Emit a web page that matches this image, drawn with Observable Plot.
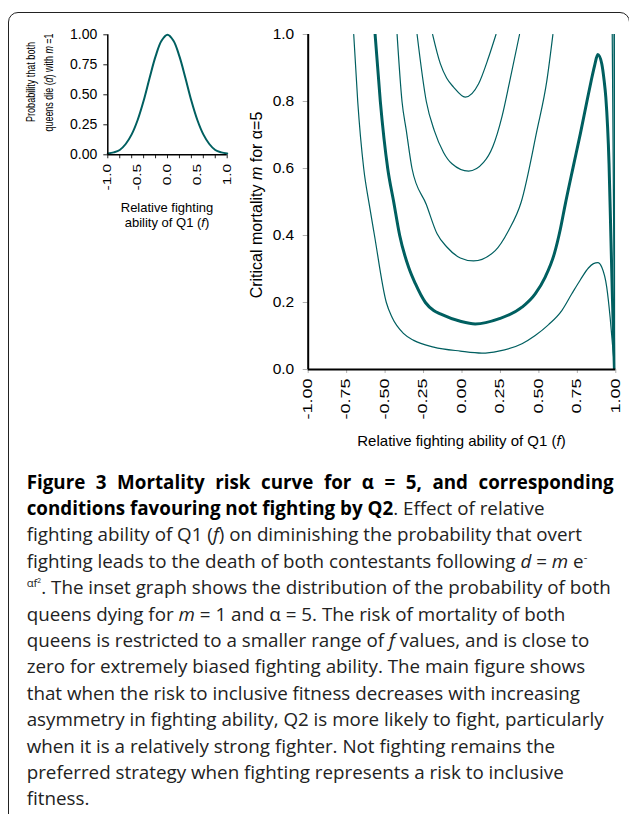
<!DOCTYPE html>
<html>
<head>
<meta charset="utf-8">
<script src="https://cdn.jsdelivr.net/npm/d3@7"></script>
<script src="https://cdn.jsdelivr.net/npm/@observablehq/plot@0.6"></script>
<style>
html,body{margin:0;padding:0;background:#fff;}
body{width:629px;height:814px;position:relative;overflow:hidden;}
#frame{position:absolute;left:8px;top:12px;width:622px;height:812px;border:1.5px solid #222;border-radius:10px;box-sizing:border-box;}
#inset{position:absolute;left:0;top:0;}
#main{position:absolute;left:240px;top:0;}
#caption{position:absolute;left:26.7px;top:468.5px;font-family:"Open Sans",sans-serif;font-size:18.8px;line-height:26.4px;color:#222;white-space:nowrap;}
#caption b{color:#000;font-weight:700;}
#caption .l1{width:587px;text-align:justify;text-align-last:justify;}
#caption sup{font-size:0.6em;line-height:0;vertical-align:baseline;position:relative;top:-0.6em;}
</style>
</head>
<body>
<div id="frame"></div>
<div id="inset"></div>
<div id="main"></div>
<div id="caption">
<div class="l1"><b>Figure 3 Mortality risk curve for α = 5, and corresponding</b></div>
<div><b>conditions favouring not fighting by Q2</b>. Effect of relative</div>
<div>fighting ability of Q1 (<i>f</i>) on diminishing the probability that overt</div>
<div>fighting leads to the death of both contestants following <i>d</i> = <i>m</i> e<sup>-</sup></div>
<div><sup>αf<sup>2</sup></sup>. The inset graph shows the distribution of the probability of both</div>
<div>queens dying for <i>m</i> = 1 and α = 5. The risk of mortality of both</div>
<div>queens is restricted to a smaller range of <i>f</i> values, and is close to</div>
<div>zero for extremely biased fighting ability. The main figure shows</div>
<div>that when the risk to inclusive fitness decreases with increasing</div>
<div>asymmetry in fighting ability, Q2 is more likely to fight, particularly</div>
<div>when it is a relatively strong fighter. Not fighting remains the</div>
<div>preferred strategy when fighting represents a risk to inclusive</div>
<div>fitness.</div>
</div>
<script>
// ---------- Inset data: probability both queens die (m = 1) ----------
const insetF = [-1,-0.9,-0.8,-0.7,-0.6,-0.5,-0.4,-0.3,-0.2,-0.1,0,0.1,0.2,0.3,0.4,0.5,0.6,0.7,0.8,0.9,1];
const insetD = [0.01,0.02,0.04,0.09,0.17,0.29,0.45,0.64,0.82,0.95,1.00,0.95,0.82,0.64,0.45,0.29,0.17,0.09,0.04,0.02,0.01];
const insetXTicks = [-1,-0.5,0,0.5,1];
const insetXTickLabels = ["-1.0","-0.5","0.0","0.5","1.0"];
const insetXTickMarks = [-1,-0.8,-0.6,-0.4,-0.2,0,0.2,0.4,0.6,0.8,1];
const insetYTicks = [0,0.25,0.5,0.75,1];
const insetYTickLabels = ["0.00","0.25","0.50","0.75","1.00"];

// ---------- Main data: critical mortality m vs relative fighting ability f ----------
const curveA_f = [-0.704,-0.678,-0.639,-0.602,-0.569,-0.492,-0.455,-0.379,-0.314,-0.184,-0.011,0.13,0.238,0.39,0.476,0.563,0.649,0.714,0.77,0.822,0.855,0.883,0.909,0.941,0.963,0.978,0.993];
const curveA_m = [1.0,0.8,0.6,0.49,0.4,0.2,0.156,0.107,0.087,0.067,0.055,0.049,0.055,0.077,0.1015,0.134,0.176,0.226,0.268,0.303,0.316,0.319,0.305,0.246,0.156,0.077,0.0];

const curveB_f = [-0.565,-0.531,-0.483,-0.444,-0.405,-0.347,-0.303,-0.238,-0.184,-0.141,-0.011,0.086,0.238,0.39,0.476,0.541,0.60,0.64,0.67,0.723,0.770,0.812,0.840,0.861,0.883,0.909,0.924,0.935,0.956,0.967,0.978,0.991];
const curveB_m = [1.0,0.8,0.6,0.5,0.4,0.305,0.256,0.2,0.176,0.166,0.144,0.136,0.151,0.186,0.226,0.276,0.345,0.42,0.49,0.605,0.705,0.800,0.862,0.905,0.940,0.912,0.863,0.813,0.614,0.415,0.216,0.0];

const curveC_f = [-0.422,-0.39,-0.362,-0.325,-0.232,-0.162,-0.097,-0.011,0.075,0.216,0.303,0.385,0.487,0.552,0.591];
const curveC_m = [1.0,0.8,0.713,0.6,0.4925,0.405,0.365,0.333,0.324,0.355,0.415,0.5,0.713,0.863,1.0];
const curveC2_f = [0.976,0.993];
const curveC2_m = [1.05,0.0];

const curveD_f = [-0.292,-0.232,-0.18,-0.12,-0.065,0.043,0.14,0.2,0.26,0.31,0.374];
const curveD_m = [1.0,0.8,0.713,0.648,0.614,0.592,0.618,0.665,0.755,0.86,1.0];
const curveD2_f = [0.989,0.993];
const curveD2_m = [1.05,0.0];

const curveE_f = [-0.191,-0.141,-0.1,-0.055,0.021,0.108,0.173,0.221];
const curveE_m = [1.0,0.913,0.87,0.843,0.813,0.853,0.932,1.0];
const curveE2_f = [0.990,0.993];
const curveE2_m = [1.05,0.0];

const xTicks = [-1,-0.75,-0.5,-0.25,0,0.25,0.5,0.75,1];
const xTickLabels = ["-1.00","-0.75","-0.50","-0.25","0.00","0.25","0.50","0.75","1.00"];
const yTicks = [0,0.2,0.4,0.6,0.8,1];
const yTickLabels = ["0.0","0.2","0.4","0.6","0.8","1.0"];

const teal = "#005f60";
const rows = (name, fs, ms) => fs.map((f, i) => ({curve: name, f, m: ms[i]}));
const thinRows = [
  ...rows("A", curveA_f, curveA_m),
  ...rows("C", curveC_f, curveC_m), ...rows("C2", curveC2_f, curveC2_m),
  ...rows("D", curveD_f, curveD_m), ...rows("D2", curveD2_f, curveD2_m),
  ...rows("E", curveE_f, curveE_m), ...rows("E2", curveE2_f, curveE2_m)
];
const thickRows = rows("B", curveB_f, curveB_m);
const insetRows = insetF.map((f, i) => ({f, d: insetD[i]}));

const font = "'Liberation Sans', Arial, sans-serif";

// ---------- Inset chart ----------
const inset = Plot.plot({
  width: 250, height: 240,
  marginLeft: 107.3, marginRight: 23.3, marginTop: 34.3, marginBottom: 85.7,
  style: {background: "transparent", fontFamily: font, fontSize: "14px", color: "#000", overflow: "visible"},
  x: {domain: [-1, 1], ticks: insetXTicks, tickFormat: d => insetXTickLabels[insetXTicks.indexOf(d)], tickRotate: -90, tickSize: 0, tickPadding: 9, label: null},
  y: {domain: [0, 1], ticks: insetYTicks, tickFormat: d => insetYTickLabels[insetYTicks.indexOf(d)], tickSize: 0, tickPadding: 10.6, label: null},
  marks: [
    Plot.ruleX(insetXTickMarks, {x: d => d, y1: 0, y2: -0.033, stroke: "#222", strokeWidth: 1}),
    Plot.ruleY(insetYTicks, {y: d => d, x1: -1, x2: -1.067, stroke: "#222", strokeWidth: 1}),
    Plot.line(insetRows, {x: "f", y: "d", stroke: teal, strokeWidth: 2, curve: "catmull-rom"}),
    Plot.ruleX([-1], {stroke: "#000", strokeWidth: 1.5}),
    Plot.ruleY([0], {stroke: "#000", strokeWidth: 1.5})
  ]
});
document.getElementById("inset").appendChild(inset);

// ---------- Main chart ----------
const main = Plot.plot({
  width: 389, height: 460,
  marginLeft: 67.7, marginRight: 13.7, marginTop: 34, marginBottom: 91,
  style: {background: "transparent", fontFamily: font, fontSize: "15.5px", color: "#000", overflow: "visible"},
  x: {domain: [-1, 1], ticks: xTicks, tickFormat: d => xTickLabels[xTicks.indexOf(d)], tickRotate: -90, tickSize: 0, tickPadding: 9, label: null},
  y: {domain: [0, 1], ticks: yTicks, tickFormat: d => yTickLabels[yTicks.indexOf(d)], tickSize: 0, tickPadding: 14, label: null},
  marks: [
    Plot.ruleX(xTicks, {x: d => d, y1: 0, y2: -0.012, stroke: "#b0b0b0", strokeWidth: 1}),
    Plot.ruleY(yTicks, {y: d => d, x1: -1, x2: -1.0325, stroke: "#b0b0b0", strokeWidth: 1}),
    Plot.line(thinRows, {x: "f", y: "m", z: "curve", stroke: teal, strokeWidth: 1.2, curve: "monotone-x", clip: true}),
    Plot.line(thickRows, {x: "f", y: "m", z: "curve", stroke: teal, strokeWidth: 3, curve: "monotone-x", clip: true}),
    Plot.ruleX([-1], {stroke: "#000", strokeWidth: 2}),
    Plot.ruleY([0], {stroke: "#000", strokeWidth: 2})
  ]
});
document.getElementById("main").appendChild(main);

// stretch rotated tick labels along their length, as in the reference
function stretch(svg, labels, factor, size) {
  svg.querySelectorAll("text").forEach(t => {
    if (labels.includes(t.textContent.trim())) {
      t.style.fontSize = size + "px";
      const L = t.getComputedTextLength();
      t.setAttribute("textLength", (L * factor).toFixed(2));
      t.setAttribute("lengthAdjust", "spacingAndGlyphs");
    }
  });
}
stretch(main, xTickLabels, 1.5, 12);
stretch(inset, insetXTickLabels, 1.45, 10.7);

// axis titles with italic parts
function richText(sel, parts, attrs) {
  const t = sel.append("text");
  Object.entries(attrs).forEach(([k, v]) => t.attr(k, v));
  parts.forEach(([s, it]) => t.append("tspan").attr("font-style", it ? "italic" : null).text(s));
  return t;
}
const ms = d3.select(main);
richText(ms, [["Relative fighting ability of Q1 (", 0], ["f", 1], [")", 0]],
  {x: 221.5, y: 445.5, "text-anchor": "middle", "font-size": 15, "font-family": font, fill: "#000"});
richText(ms, [["Critical mortality ", 0], ["m", 1], [" for α=5", 0]],
  {transform: "translate(21.6,205) rotate(-90)", "text-anchor": "middle", "font-size": 16, "font-family": font, fill: "#000"});

const is = d3.select(inset);
richText(is, [["Relative fighting", 0]],
  {x: 167, y: 211.5, "text-anchor": "middle", "font-size": 13, "font-family": font, fill: "#000"});
richText(is, [["ability of Q1 (", 0], ["f", 1], [")", 0]],
  {x: 167, y: 227, "text-anchor": "middle", "font-size": 13, "font-family": font, fill: "#000"});

// rotated two-line title of the inset, condensed along its length to the reference extent
function condensed(sel, parts, x, y, size, targetLen) {
  const t = richText(sel, parts, {"text-anchor": "middle", "font-size": size, "font-family": font, fill: "#000"});
  const L = t.node().getComputedTextLength();
  const s = L > 0 ? targetLen / L : 1;
  t.attr("transform", `translate(${x},${y}) rotate(-90) scale(${s.toFixed(3)},1)`);
}
condensed(is, [["Probability that both", 0]], 35, 82, 13.5, 80);
condensed(is, [["queens die (", 0], ["d", 1], [") with ", 0], ["m", 1], [" =1", 0]], 52.5, 82.5, 13.5, 98);
</script>
</body>
</html>
